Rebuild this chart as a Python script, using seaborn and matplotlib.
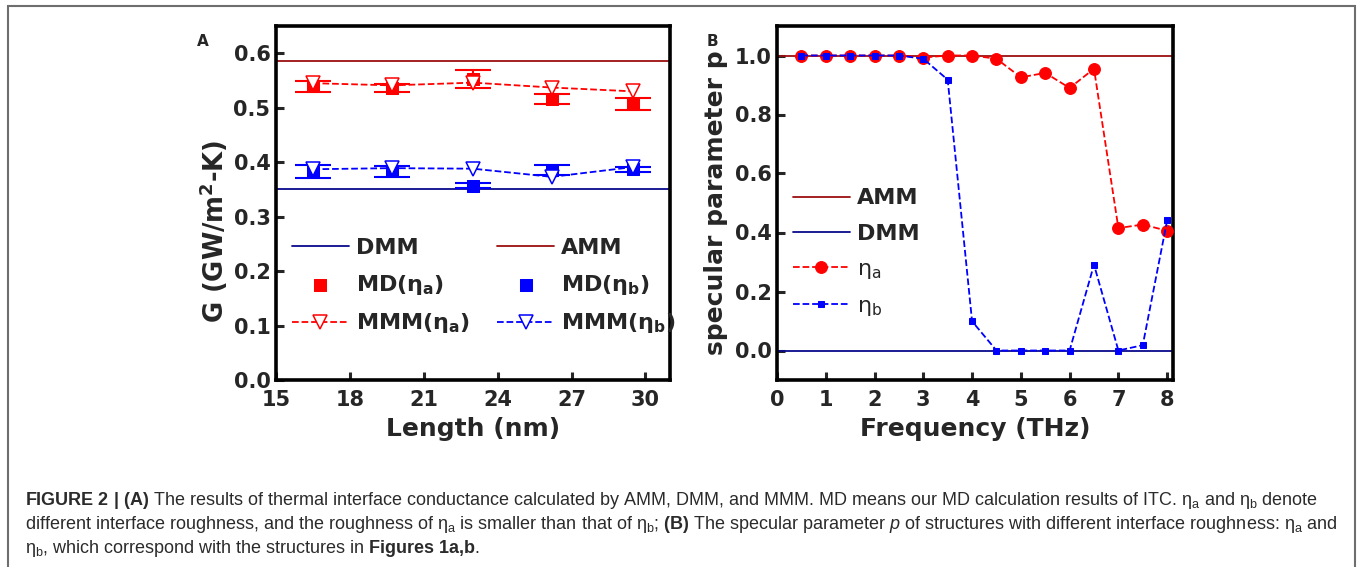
import numpy as np
import pandas as pd
import matplotlib
matplotlib.use('Agg')
import matplotlib.pyplot as plt
import seaborn as sns
from matplotlib.patches import Rectangle

# panel A data
length = [16.5, 19.7, 23.0, 26.2, 29.5]
md_a = [0.539, 0.536, 0.553, 0.516, 0.506]
md_a_err = [0.010, 0.008, 0.016, 0.010, 0.011]
md_b = [0.382, 0.383, 0.357, 0.385, 0.387]
md_b_err = [0.012, 0.010, 0.005, 0.009, 0.005]
mmm_a = [0.545, 0.541, 0.546, 0.537, 0.530]
mmm_b = [0.387, 0.389, 0.388, 0.373, 0.391]
amm_g = 0.586
dmm_g = 0.350

# panel B data
freq = [0.5, 1.0, 1.5, 2.0, 2.5, 3.0, 3.5, 4.0, 4.5, 5.0, 5.5, 6.0, 6.5, 7.0, 7.5, 8.0]
p_a = [1.0, 1.0, 1.0, 1.0, 1.0, 0.993, 1.0, 1.0, 0.989, 0.926, 0.941, 0.890, 0.955, 0.415, 0.427, 0.406]
p_b = [1.0, 1.0, 1.0, 1.0, 1.0, 0.989, 0.918, 0.099, 0.0, 0.0, 0.0, 0.0, 0.291, 0.0, 0.018, 0.441]
amm_p = 1.0
dmm_p = 0.0

RED = '#ff0000'
BLUE = '#0000ff'
DARKRED = '#9b0f0f'
NAVY = '#0a0a8c'

sns.set_style('ticks')
plt.rcParams['font.family'] = ['DejaVu Sans']
plt.rcParams['mathtext.fontset'] = 'dejavusans'
plt.rcParams['mathtext.rm'] = 'Liberation Sans'
plt.rcParams['mathtext.bf'] = 'Liberation Sans:bold'
plt.rcParams['mathtext.it'] = 'Liberation Sans:italic'

fig = plt.figure(figsize=(13.6, 5.67), dpi=100)
axA = fig.add_axes([276 / 1360, 1 - 380 / 567, 394 / 1360, 354 / 567])
axB = fig.add_axes([777 / 1360, 1 - 380 / 567, 396 / 1360, 354 / 567])

dfA = pd.DataFrame({'Length': length, 'MD_a': md_a, 'MD_b': md_b, 'MMM_a': mmm_a, 'MMM_b': mmm_b})
dfB = pd.DataFrame({'Freq': freq, 'p_a': p_a, 'p_b': p_b})

# ---- panel A ----
axA.axhline(dmm_g, color=NAVY, lw=1.3, label='DMM', zorder=1)
sns.scatterplot(data=dfA, x='Length', y='MD_a', marker='s', s=85, color=RED, edgecolor=RED,
                ax=axA, label=r'MD($\mathbf{\eta_a}$)', zorder=3)
axA.errorbar(length, md_a, yerr=md_a_err, fmt='none', ecolor=RED, elinewidth=1.5, capsize=13, capthick=1.5)
sns.lineplot(data=dfA, x='Length', y='MMM_a', color=RED, marker='v', markersize=10.5, mfc='white', mec=RED,
             mew=1.1, linestyle='--', lw=1.3, ax=axA, label=r'MMM($\mathbf{\eta_a}$)', zorder=4)
axA.axhline(amm_g, color=DARKRED, lw=1.3, label='AMM', zorder=1)
sns.scatterplot(data=dfA, x='Length', y='MD_b', marker='s', s=85, color=BLUE, edgecolor=BLUE,
                ax=axA, label=r'MD($\mathbf{\eta_b}$)', zorder=3)
axA.errorbar(length, md_b, yerr=md_b_err, fmt='none', ecolor=BLUE, elinewidth=1.5, capsize=13, capthick=1.5)
sns.lineplot(data=dfA, x='Length', y='MMM_b', color=BLUE, marker='v', markersize=10.5, mfc='white', mec=BLUE,
             mew=1.1, linestyle='--', lw=1.3, ax=axA, label=r'MMM($\mathbf{\eta_b}$)', zorder=4)

axA.set_xlim(15, 31)
axA.set_ylim(0, 0.65)
axA.set_xticks([15, 18, 21, 24, 27, 30])
axA.set_yticks(np.arange(0, 0.61, 0.1))
axA.set_yticklabels(['0.0', '0.1', '0.2', '0.3', '0.4', '0.5', '0.6'])
axA.set_xlabel('Length (nm)', fontsize=18, fontweight='bold', labelpad=5)
axA.set_ylabel(r'G (GW/m$^{\mathbf{2}}$-K)', fontsize=18.5, fontweight='bold')
axA.yaxis.set_label_coords(-0.118, 0.42)

h, l = axA.get_legend_handles_labels()
order = [l.index(k) for k in ['DMM', r'MD($\mathbf{\eta_a}$)', r'MMM($\mathbf{\eta_a}$)',
                              'AMM', r'MD($\mathbf{\eta_b}$)', r'MMM($\mathbf{\eta_b}$)']]
axA.legend([h[i] for i in order], [l[i] for i in order], ncol=2, loc='upper left',
           bbox_to_anchor=(0.0, 0.445), frameon=False, prop={'weight': 'bold', 'size': 16},
           handlelength=2.6, handletextpad=0.3, columnspacing=1.2, labelspacing=0.66,
           borderaxespad=0.3)

# ---- panel B ----
axB.axhline(amm_p, color=DARKRED, lw=1.3, label='AMM', zorder=1)
axB.axhline(dmm_p, color=NAVY, lw=1.3, label='DMM', zorder=1)
sns.lineplot(data=dfB, x='Freq', y='p_a', color=RED, marker='o', markersize=8.5, mec=RED,
             linestyle='--', lw=1.3, ax=axB, label=r'$\mathrm{\eta_a}$', zorder=3)
sns.lineplot(data=dfB, x='Freq', y='p_b', color=BLUE, marker='s', markersize=5, mec=BLUE,
             linestyle='--', lw=1.3, ax=axB, label=r'$\mathrm{\eta_b}$', zorder=4)

axB.set_xlim(0, 8.12)
axB.set_ylim(-0.1, 1.1)
axB.set_xticks(range(0, 9))
axB.set_yticks(np.arange(0, 1.01, 0.2))
axB.set_yticklabels(['0.0', '0.2', '0.4', '0.6', '0.8', '1.0'])
axB.set_xlabel('Frequency (THz)', fontsize=18, fontweight='bold', labelpad=5)
axB.set_ylabel('specular parameter p', fontsize=18, fontweight='bold', labelpad=5)
axB.legend(loc='upper left', bbox_to_anchor=(0.0, 0.585), frameon=False,
           prop={'weight': 'bold', 'size': 16}, handlelength=2.6, handletextpad=0.3,
           labelspacing=0.68, borderaxespad=0.3)

for ax in (axA, axB):
    for s in ax.spines.values():
        s.set_linewidth(2.6)
        s.set_color('black')
    ax.tick_params(direction='in', length=6, width=2.2, labelsize=15)
    ax.tick_params(axis='x', pad=7)
    ax.tick_params(axis='y', pad=4)
    for t in ax.get_xticklabels() + ax.get_yticklabels():
        t.set_fontweight('bold')

fig.text(203 / 1360, 1 - 42 / 567, 'A', fontsize=11, fontweight='bold', ha='center', va='center')
fig.text(712 / 1360, 1 - 42 / 567, 'B', fontsize=11, fontweight='bold', ha='center', va='center')

# caption box and text
fig.patches.append(Rectangle((8 / 1360, -0.05), 1347 / 1360, 1.05 - 6 / 567, transform=fig.transFigure,
                             fill=False, edgecolor='#6e6e6e', lw=1.5))
cap_kw = dict(fontsize=13.0, color='#2b2b2b', ha='left', va='baseline',
              family='Liberation Sans', math_fontfamily='custom')
fig.text(25 / 1360, 1 - 505 / 567,
         r'$\mathbf{FIGURE\ 2\ |\ (A)}$ The results of thermal interface conductance calculated by AMM, DMM, '
         r'and MMM. MD means our MD calculation results of ITC. $\mathrm{\eta_a}$ and $\mathrm{\eta_b}$ denote',
         **cap_kw)
fig.text(25 / 1360, 1 - 529 / 567,
         r'different interface roughness, and the roughness of $\mathrm{\eta_a}$ is smaller than that of '
         r'$\mathrm{\eta_b}$; $\mathbf{(B)}$ The specular parameter $p$ of structures with different interface '
         r'roughness: $\mathrm{\eta_a}$ and', **cap_kw)
fig.text(25 / 1360, 1 - 553 / 567,
         r'$\mathrm{\eta_b}$, which correspond with the structures in $\mathbf{Figures\ 1a{,}b}$.', **cap_kw)

fig.savefig('out.png', dpi=100, facecolor='white')
